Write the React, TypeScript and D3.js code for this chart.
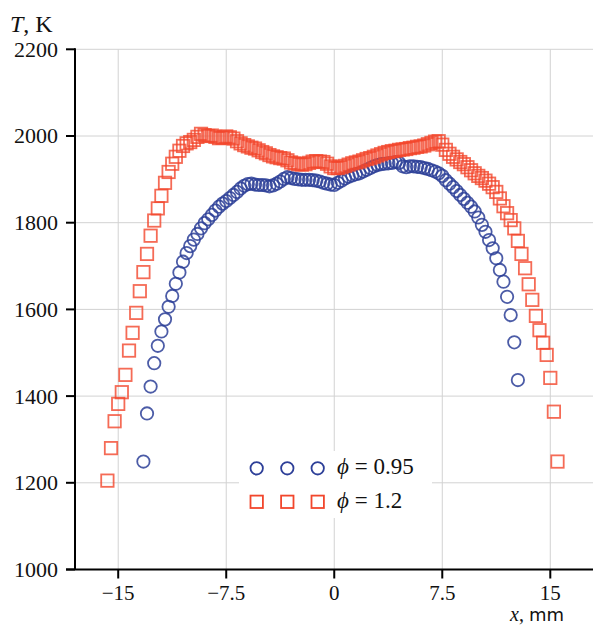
import React from "react"
import * as d3 from "d3"

// phi = 0.95 (blue circles)
const leanX = [
  -13.25, -13, -12.75, -12.5, -12.25, -12, -11.75, -11.5, -11.25, -11, -10.75, -10.5, -10.25, -10,
  -9.75, -9.5, -9.25, -9, -8.75, -8.5, -8.25, -8, -7.75, -7.5, -7.25, -7, -6.75, -6.5, -6.25, -6,
  -5.75, -5.5, -5.25, -5, -4.75, -4.5, -4.25, -4, -3.75, -3.5, -3.25, -3, -2.75, -2.5, -2.25, -2,
  -1.75, -1.5, -1.25, -1, -0.75, -0.5, -0.25, 0, 0.25, 0.5, 0.75, 1, 1.25, 1.5, 1.75, 2,
  2.25, 2.5, 2.75, 3, 3.25, 3.5, 3.75, 4, 4.25, 4.5, 4.75, 5, 5.25, 5.5, 5.75, 6,
  6.25, 6.5, 6.75, 7, 7.25, 7.5, 7.75, 8, 8.25, 8.5, 8.75, 9, 9.25, 9.5, 9.75, 10,
  10.25, 10.5, 10.75, 11, 11.25, 11.5, 11.75, 12, 12.25, 12.5, 12.75,
]
const leanT = [
  1249, 1360, 1422, 1476, 1516, 1549, 1577, 1606, 1631, 1659, 1685, 1710, 1730, 1746,
  1761, 1774, 1787, 1799, 1808, 1818, 1828, 1837, 1844, 1850, 1857, 1864, 1871, 1879, 1885, 1889,
  1890, 1888, 1887, 1887, 1886, 1884, 1886, 1890, 1895, 1901, 1905, 1903, 1901, 1900, 1899, 1899,
  1899, 1898, 1897, 1895, 1892, 1890, 1888, 1887, 1892, 1897, 1902, 1906, 1909, 1912, 1914, 1918,
  1922, 1926, 1930, 1933, 1935, 1936, 1937, 1938, 1940, 1938, 1930, 1928, 1930, 1930, 1929, 1928,
  1926, 1924, 1921, 1918, 1914, 1908, 1898, 1890, 1882, 1873, 1864, 1855, 1846, 1837, 1826, 1812,
  1795, 1779, 1760, 1741, 1718, 1691, 1664, 1629, 1587, 1524, 1437,
]

// phi = 1.2 (red squares)
const richX = [
  -15.75, -15.5, -15.25, -15, -14.75, -14.5, -14.25, -14, -13.75, -13.5, -13.25, -13, -12.75, -12.5,
  -12.25, -12, -11.75, -11.5, -11.25, -11, -10.75, -10.5, -10.25, -10, -9.75, -9.5, -9.25, -9,
  -8.75, -8.5, -8.25, -8, -7.75, -7.5, -7.25, -7, -6.75, -6.5, -6.25, -6, -5.75, -5.5, -5.25, -5,
  -4.75, -4.5, -4.25, -4, -3.75, -3.5, -3.25, -3, -2.75, -2.5, -2.25, -2, -1.75, -1.5, -1.25, -1,
  -0.75, -0.5, -0.25, 0, 0.25, 0.5, 0.75, 1, 1.25, 1.5, 1.75, 2, 2.25, 2.5, 2.75, 3,
  3.25, 3.5, 3.75, 4, 4.25, 4.5, 4.75, 5, 5.25, 5.5, 5.75, 6, 6.25, 6.5, 6.75, 7,
  7.25, 7.5, 7.75, 8, 8.25, 8.5, 8.75, 9, 9.25, 9.5, 9.75, 10, 10.25, 10.5, 10.75, 11,
  11.25, 11.5, 11.75, 12, 12.25, 12.5, 12.75, 13, 13.25, 13.5, 13.75, 14, 14.25, 14.5, 14.75, 15,
  15.25, 15.5,
]
const richT = [
  1205, 1280, 1342, 1382, 1409, 1449, 1505, 1546, 1592, 1642, 1686, 1728, 1770, 1805,
  1833, 1862, 1892, 1917, 1936, 1952, 1966, 1977, 1983, 1986, 1991, 1998, 2005, 2002,
  2000, 2001, 1998, 1995, 1996, 1999, 1997, 1994, 1988, 1983, 1979, 1976, 1973, 1971, 1967, 1963,
  1960, 1956, 1953, 1951, 1949, 1948, 1944, 1939, 1937, 1935, 1934, 1935, 1938, 1941, 1942, 1941,
  1940, 1936, 1930, 1926, 1926, 1928, 1931, 1934, 1937, 1939, 1941, 1944, 1947, 1949, 1952, 1955,
  1958, 1961, 1963, 1965, 1966, 1968, 1969, 1970, 1972, 1973, 1975, 1976, 1978, 1981, 1984, 1987,
  1988, 1980, 1968, 1959, 1952, 1946, 1940, 1935, 1928, 1921, 1914, 1908, 1903, 1897, 1890, 1882,
  1871, 1856, 1838, 1822, 1806, 1787, 1758, 1728, 1695, 1658, 1622, 1585, 1552, 1523, 1495, 1442,
  1364, 1249,
]

const xTicks = [-15, -7.5, 0, 7.5, 15]
const yTicks = [1000, 1200, 1400, 1600, 1800, 2000, 2200]
const legendLabels = ["0.95", "1.2"]

const BLUE = "#2d3f98"
const RED = "#f2462c"
const SERIF = "'Liberation Serif', 'DejaVu Serif', serif"

const fmtX = (d: number) => (d < 0 ? "\u2212" + Math.abs(d) : String(d))

export default function App() {
  const width = 593
  const height = 626
  const x = d3.scaleLinear().domain([-18, 18]).range([75, 593.5])
  const y = d3.scaleLinear().domain([1000, 2200]).range([569.5, 49.3])
  const [x0, x1] = x.range()
  const [y0, y1] = y.range()
  const r = 6.2
  const s = 12.4

  const lean = leanX.map((d, i) => ({ x: d, t: leanT[i] }))
  const rich = richX.map((d, i) => ({ x: d, t: richT[i] }))

  return (
    <svg width={width} height={height} style={{ position: "absolute", left: 0, top: 0 }}>
      <rect width={width} height={height} fill="#fff" />
      {/* grid */}
      <g stroke="#d2d2d2" strokeWidth={1}>
        {xTicks.map((t) => (
          <line key={"gx" + t} x1={x(t)} x2={x(t)} y1={y1} y2={y0} />
        ))}
        {yTicks.slice(1).map((t) => (
          <line key={"gy" + t} x1={x0} x2={x1} y1={y(t)} y2={y(t)} />
        ))}
      </g>

      {/* data */}
      <g fill="none" stroke={BLUE} strokeWidth={1.8} strokeOpacity={0.85}>
        {lean.map((d, i) => (
          <circle key={i} cx={x(d.x)} cy={y(d.t)} r={r} />
        ))}
      </g>
      <g fill="none" stroke={RED} strokeWidth={1.8} strokeOpacity={0.8}>
        {rich.map((d, i) => (
          <rect key={i} x={x(d.x) - s / 2} y={y(d.t) - s / 2} width={s} height={s} />
        ))}
      </g>

      {/* axes */}
      <g stroke="#000" strokeWidth={2}>
        <line x1={x0} x2={x0} y1={y1 - 1} y2={y0} />
        <line x1={x0 - 9} x2={x1} y1={y0} y2={y0} />
        {yTicks.map((t) => (
          <line key={"ty" + t} x1={x0 - 9} x2={x0} y1={y(t)} y2={y(t)} />
        ))}
        {xTicks.map((t) => (
          <line key={"tx" + t} x1={x(t)} x2={x(t)} y1={y0} y2={y0 + 9} />
        ))}
      </g>
      <g fontFamily={SERIF} fill="#111">
        {yTicks.map((t) => (
          <text key={"ly" + t} x={x0 - 17} y={y(t)} dy="0.34em" textAnchor="end" fontSize={22}>
            {t}
          </text>
        ))}
        {xTicks.map((t) => (
          <text key={"lx" + t} x={x(t)} y={y0 + 30} textAnchor="middle" fontSize={21}>
            {fmtX(t)}
          </text>
        ))}
        <text x={10} y={31.5} fontSize={24}>
          <tspan fontStyle="italic">T</tspan>
          <tspan>, K</tspan>
        </text>
        <text x={510} y={620.5} fontSize={20}>
          <tspan fontStyle="italic">x</tspan>
          <tspan>, </tspan>
          <tspan fontFamily="'DejaVu Sans', sans-serif" fontSize={18}>mm</tspan>
        </text>
      </g>

      {/* legend */}
      <rect x={239} y={451} width={193} height={67} fill="#fff" />
      {legendLabels.map((lab, i) => {
        const cy = 468.3 + i * 33.5
        const xs = [256.7, 287.3, 317.7]
        return (
          <g key={lab}>
            {xs.map((cx) =>
              i === 0 ? (
                <circle key={cx} cx={cx} cy={cy} r={r} fill="none" stroke={BLUE} strokeWidth={1.8} />
              ) : (
                <rect key={cx} x={cx - s / 2} y={cy - s / 2} width={s} height={s} fill="none" stroke={RED} strokeWidth={1.8} />
              )
            )}
            <text x={337} y={cy + 6} fontFamily={SERIF} fontSize={23} fill="#111">
              <tspan fontStyle="italic">{"\u03d5"}</tspan>
              <tspan> = {lab}</tspan>
            </text>
          </g>
        )
      })}
    </svg>
  )
}
